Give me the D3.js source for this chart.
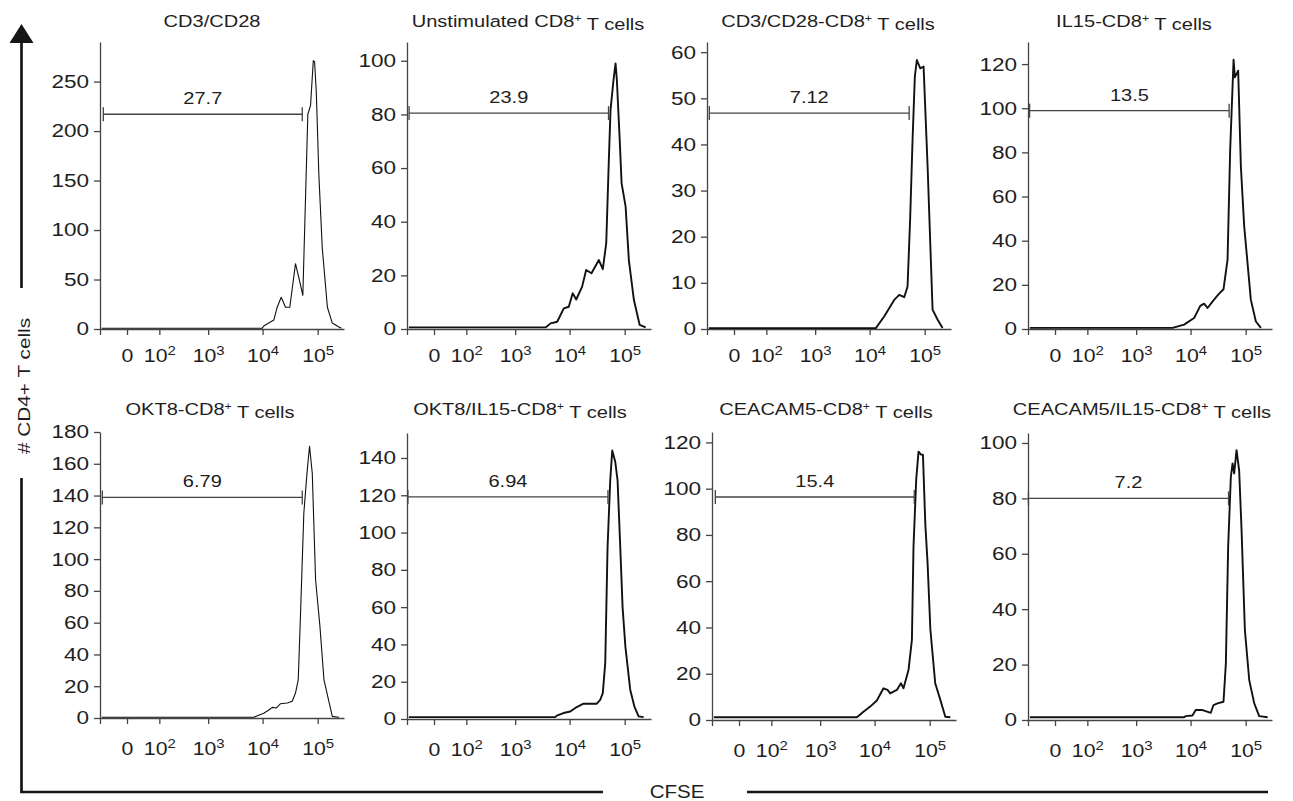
<!DOCTYPE html>
<html>
<head>
<meta charset="utf-8">
<script src="https://cdn.jsdelivr.net/npm/d3@7"></script>
<style>
  body { margin: 0; background: #fff; }
  svg { display: block; font-family: "Liberation Sans", Arial, sans-serif; }
</style>
</head>
<body>
<svg id="chart" width="1293" height="801"></svg>
<script>
/* global d3 */

//Panel titles: [text, superscript, rest]
var titles = [
  ['CD3/CD28', '', ''],
  ['Unstimulated CD8', '+', ' T cells'],
  ['CD3/CD28-CD8', '+', ' T cells'],
  ['IL15-CD8', '+', ' T cells'],
  ['OKT8-CD8', '+', ' T cells'],
  ['OKT8/IL15-CD8', '+', ' T cells'],
  ['CEACAM5-CD8', '+', ' T cells'],
  ['CEACAM5/IL15-CD8', '+', ' T cells']
];

//Gate (percent divided cells)
var gateLabels = ['27.7', '23.9', '7.12', '13.5', '6.79', '6.94', '15.4', '7.2'];
var gateLow = [-59, -64, -63, -66, -63, -69, -59, -71];
var gateHigh = [52500, 50900, 52300, 50100, 52500, 49700, 52500, 48900];
var gateCount = [217, 80.5, 46.8, 98.9, 138.8, 119.1, 96.4, 80];

//Y axis
var yMax = [290, 107, 62.2, 130, 180, 153.4, 124.5, 103.6];
var yTicks = [
  [0, 50, 100, 150, 200, 250],
  [0, 20, 40, 60, 80, 100],
  [0, 10, 20, 30, 40, 50, 60],
  [0, 20, 40, 60, 80, 100, 120],
  [0, 20, 40, 60, 80, 100, 120, 140, 160, 180],
  [0, 20, 40, 60, 80, 100, 120, 140],
  [0, 20, 40, 60, 80, 100, 120],
  [0, 20, 40, 60, 80, 100]
];

//X axis (CFSE, biexponential)
var xDomain = [-73, 300000];
var xTickVals = [-73, 0, 100, 1000, 10000, 100000];
var xTickLabels = ['', '0', '10^2', '10^3', '10^4', '10^5'];

//Histograms: [CFSE, count]
var histCD3CD28 = [[-65,0.7],[9800,0.7],[10500,3],[16000,9],[18400,22],[21800,32],[26100,22],[31200,22],[39600,66],[45500,52],[53800,34],[66300,217],[74300,226],[83200,271],[87900,270],[94400,239],[105000,156],[121000,82],[150000,22],[184000,6],[243000,2],[269000,0.7]];
var histUnstim = [[-65,0.6],[3650,0.6],[4500,2.1],[5950,2.7],[7850,7.7],[9670,8.3],[11400,13.3],[13200,11],[16900,15.8],[20000,22],[25000,20.8],[34000,25.7],[40100,22.3],[46300,32],[51600,63],[55400,81.7],[62100,92],[68300,99],[72100,93],[80700,71.8],[87900,54.4],[104000,45.6],[119000,25.7],[147000,10.8],[187000,1.5],[240000,0.6]];
var histCD3CD28CD8 = [[-65,0.2],[13000,0.2],[18400,2.7],[28000,6.3],[34500,7.4],[42600,6.9],[48900,9.2],[54700,24.4],[60300,41],[66300,54.7],[72100,58.3],[83200,56.5],[95500,56.9],[113000,35.2],[139000,4.2],[172000,2],[211000,0.2]];
var histIL15 = [[-65,0.5],[4690,0.5],[7620,2],[11600,5],[15000,10.5],[17600,11.5],[20300,9.5],[26700,13.3],[33000,16],[39600,18],[46900,31.4],[52300,81],[60300,122],[63600,114],[73100,117],[81800,73.6],[94000,46.5],[104000,34.4],[124000,13.3],[153000,3.4],[189000,0.5]];
var histOKT8 = [[-65,0.5],[6920,0.5],[10500,3],[13000,5],[15000,6.7],[17900,6.3],[21200,9],[28000,9.4],[34500,10.5],[39600,15.7],[44400,24],[48900,66],[56100,129],[64700,156],[71200,171],[79800,154],[91600,87],[110000,57.5],[130000,24],[150000,14.6],[184000,1],[243000,0.5]];
var histOKT8IL15 = [[-65,1],[5470,1],[5850,1.8],[7740,3.2],[10300,4],[13500,6.4],[17900,8.2],[31200,8.2],[36000,10.3],[40100,13.9],[44400,30],[48900,92],[54700,128],[59500,144],[67400,138],[74300,128],[83200,92],[91600,60],[103000,38.8],[126000,15.7],[150000,6.7],[179000,1.4],[221000,1]];
var histCEACAM5 = [[-65,1.2],[4760,1.2],[6280,3.6],[8320,5.8],[11000,8.4],[14500,13.7],[17200,13],[19200,11.5],[25400,13],[30100,15.9],[33500,13.7],[41300,21.6],[47600,34.6],[50900,75],[57000,104],[62800,116],[69500,114.7],[75500,114.7],[83200,85],[91600,67.8],[103000,39],[126000,15.9],[156000,8.7],[192000,1.4],[237000,1.2]];
var histCEACAM5IL15 = [[-65,1],[7620,1],[8180,1.4],[10800,1.6],[12400,3.6],[16500,3.6],[23300,2.6],[26100,5.4],[30800,6],[39600,6.6],[43700,20.4],[48100,62.5],[53800,87.7],[57800,92.6],[61800,89],[68300,97.4],[76200,90],[84200,68.5],[96700,32.5],[116000,14.4],[143000,6],[176000,1.4],[250000,1]];

var histograms = [histCD3CD28, histUnstim, histCD3CD28CD8, histIL15, histOKT8, histOKT8IL15, histCEACAM5, histCEACAM5IL15];

//Layout
var axisX = [100, 407, 707, 1028, 100, 407, 712, 1028];
var plotTop = [42, 42, 42, 42, 432, 433, 432, 433];
var plotBase = [329, 329, 329, 329, 718, 719, 720, 720];
var plotW = 244;
var titleX = [212, 528, 828, 1134, 210, 520, 826, 1142];
var titleY = [27, 415];
var thinLines = [0, 4];

var svg = d3.select('#chart');
var textColor = '#1e1e1e';
var axisColor = '#444';

//Stretch text horizontally (the figure font is wide)
function place(sel, x, y, sx){
  sel.attr('transform', 'translate(' + x + ',' + y + ') scale(' + sx + ',1)');
}

histograms.forEach(function(hist, i){
  var row = Math.floor(i / 4);
  var g = svg.append('g').attr('transform', 'translate(' + axisX[i] + ',0)');

  var x = d3.scaleSymlog().constant(35).domain(xDomain).range([0, plotW]);
  var y = d3.scaleLinear().domain([0, yMax[i]]).range([plotBase[i], plotTop[i]]);

  //Y axis
  var gy = g.append('g')
    .call(d3.axisLeft(y).tickValues(yTicks[i]).tickSize(6).tickPadding(3).tickSizeOuter(0));
  gy.attr('font-family', null).attr('font-size', null).style('color', axisColor);
  gy.selectAll('path, line').attr('stroke-width', 1.3);
  gy.selectAll('.tick text')
    .attr('fill', textColor)
    .style('font-size', '18.5px')
    .attr('transform', 'scale(1.22,1)');

  //X axis
  var gx = g.append('g').attr('transform', 'translate(0,' + plotBase[i] + ')')
    .call(d3.axisBottom(x).tickValues(xTickVals).tickFormat(function(){ return ''; })
      .tickSize(6).tickPadding(row ? 18 : 14).tickSizeOuter(0));
  gx.attr('font-family', null).attr('font-size', null).style('color', axisColor);
  gx.selectAll('path, line').attr('stroke-width', 1.3);
  gx.selectAll('.tick text').each(function(d, j){
    var parts = xTickLabels[j].split('^');
    var t = d3.select(this)
      .attr('fill', textColor)
      .style('font-size', '18.5px')
      .attr('transform', 'scale(1.15,1)')
      .text(parts[0]);
    if(parts[1]) t.append('tspan').attr('dy', '-0.55em').style('font-size', '13px').text(parts[1]);
  });

  //Histogram
  var line = d3.line()
    .x(function(d){ return x(d[0]); })
    .y(function(d){ return y(d[1]); });
  g.append('path').datum(hist)
    .attr('d', line)
    .attr('fill', 'none')
    .attr('stroke', '#111')
    .attr('stroke-width', thinLines.indexOf(i) >= 0 ? 1.1 : 1.9)
    .attr('stroke-linejoin', 'round');

  //Gate marker
  var gyPos = y(gateCount[i]), gx0 = x(gateLow[i]), gx1 = x(gateHigh[i]);
  var gate = g.append('g').attr('stroke', axisColor).attr('stroke-width', 1.3);
  gate.append('line').attr('x1', gx0).attr('x2', gx1).attr('y1', gyPos).attr('y2', gyPos);
  gate.selectAll('.end').data([gx0, gx1]).enter().append('line')
    .attr('x1', function(d){ return d; }).attr('x2', function(d){ return d; })
    .attr('y1', gyPos - 7).attr('y2', gyPos + 7);
  var gl = g.append('text')
    .attr('text-anchor', 'middle')
    .attr('fill', textColor)
    .style('font-size', '16px')
    .text(gateLabels[i]);
  place(gl, (gx0 + gx1) / 2, gyPos - 10, 1.25);

  //Title
  var tt = svg.append('text')
    .attr('text-anchor', 'middle')
    .attr('fill', textColor)
    .style('font-size', '17px');
  tt.append('tspan').text(titles[i][0]);
  if(titles[i][1]){
    tt.append('tspan').attr('dy', '-0.5em').style('font-size', '10.5px').text(titles[i][1]);
    tt.append('tspan').attr('dy', '0.5em').text(titles[i][2]);
  }
  place(tt, titleX[i], titleY[row], 1.18);
});

//Frame: vertical arrow + CFSE baseline
var frame = svg.append('g').attr('stroke', '#161616').attr('stroke-width', 2.7).attr('fill', 'none');
frame.append('line').attr('x1', 21.5).attr('x2', 21.5).attr('y1', 40).attr('y2', 288);
frame.append('path').attr('d', 'M21.5,478V792H603');
frame.append('line').attr('x1', 747).attr('x2', 1268).attr('y1', 792).attr('y2', 792);
svg.append('path').attr('d', 'M9.5,43L21.5,24L33.5,43Z').attr('fill', '#161616');

var yl = svg.append('text')
  .attr('text-anchor', 'middle')
  .attr('fill', textColor)
  .style('font-size', '16px')
  .text('# CD4+ T cells');
yl.attr('transform', 'translate(30,386) rotate(-90) scale(1.3,1)');

var xl = svg.append('text')
  .attr('text-anchor', 'middle')
  .attr('fill', textColor)
  .style('font-size', '18.5px')
  .text('CFSE');
place(xl, 677, 798, 1.11);
</script>
</body>
</html>
